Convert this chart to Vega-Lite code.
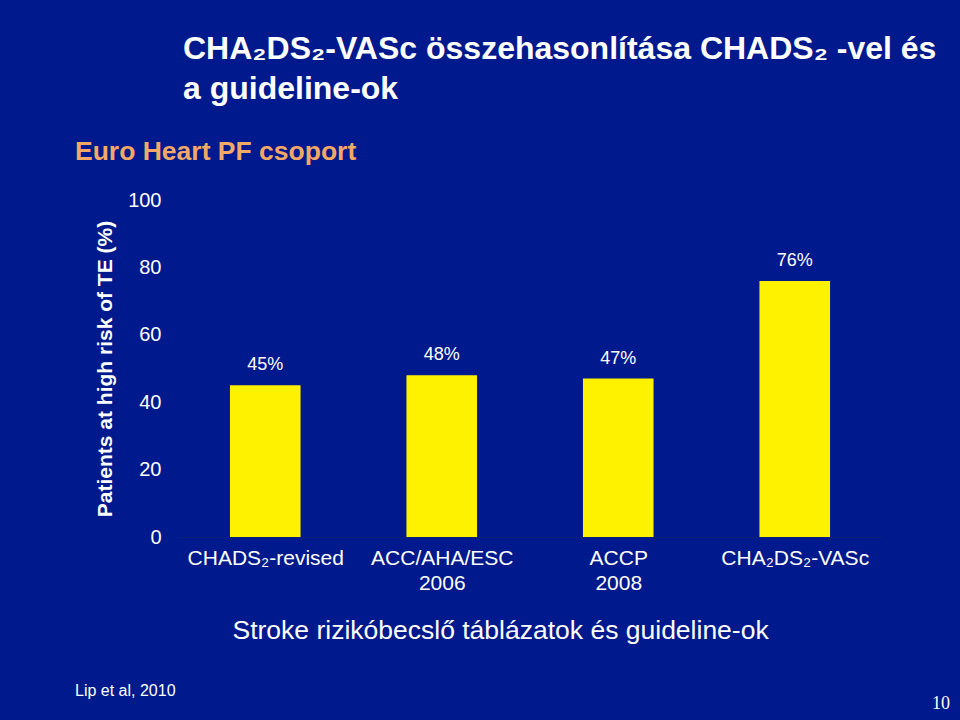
{
  "$schema": "https://vega.github.io/schema/vega-lite/v6.json",
  "background": "#00198c",
  "padding": {"left": 75, "top": 32, "right": 10, "bottom": 7},
  "config": {
    "view": {"stroke": null},
    "font": "Liberation Sans",
    "concat": {"spacing": 0}
  },
  "title": {
    "text": ["CHA₂DS₂-VASc összehasonlítása CHADS₂ -vel és", "a guideline-ok"],
    "anchor": "start",
    "frame": "group",
    "font": "Liberation Sans",
    "fontWeight": "bold",
    "fontSize": 32,
    "lineHeight": 40,
    "color": "#ffffff",
    "dx": 6,
    "offset": 33
  },
  "vconcat": [
    {
      "title": {
        "text": "10",
        "orient": "bottom",
        "anchor": "end",
        "frame": "group",
        "font": "Liberation Serif",
        "fontSize": 18,
        "fontWeight": "normal",
        "color": "#ffffff",
        "dx": 773,
        "offset": -4
      },
      "vconcat": [
        {
          "title": {
            "text": "Lip et al, 2010",
            "orient": "bottom",
            "anchor": "start",
            "frame": "group",
            "font": "Liberation Sans",
            "fontSize": 16,
            "fontWeight": "normal",
            "color": "#ffffff",
            "dx": -102,
            "offset": 39
          },
          "vconcat": [
            {
              "title": {
                "text": "Euro Heart PF csoport",
                "anchor": "start",
                "frame": "group",
                "font": "Liberation Sans",
                "fontSize": 26.5,
                "fontWeight": "bold",
                "color": "#f2a866",
                "dx": -102,
                "offset": 25
              },
              "width": 706,
              "height": 337,
              "data": {
                "values": [
                  {"category": "CHADS₂-revised", "value": 45, "label": "45%"},
                  {"category": "ACC/AHA/ESC|2006", "value": 48, "label": "48%"},
                  {"category": "ACCP|2008", "value": 47, "label": "47%"},
                  {"category": "CHA₂DS₂-VASc", "value": 76, "label": "76%"}
                ]
              },
              "encoding": {
                "x": {
                  "field": "category",
                  "type": "nominal",
                  "sort": null,
                  "scale": {"paddingInner": 0.6, "paddingOuter": 0.3},
                  "axis": {
                    "title": "Stroke rizikóbecslő táblázatok és guideline-ok",
                    "titleFont": "Liberation Sans",
                    "titleFontSize": 26.5,
                    "titleFontWeight": "normal",
                    "titleColor": "#ffffff",
                    "titleAnchor": "start",
                    "titleX": 55,
                    "titlePadding": 24,
                    "labelExpr": "split(datum.label, '|')",
                    "labelAngle": 0,
                    "labelFontSize": 21,
                    "labelColor": "#ffffff",
                    "labelPadding": 5,
                    "labelLineHeight": 25,
                    "labelBaseline": "top",
                    "domainColor": "#0d1f78",
                    "tickColor": "#0d1f78",
                    "ticks": true,
                    "tickBand": "extent",
                    "tickSize": 5,
                    "grid": false
                  }
                },
                "y": {
                  "field": "value",
                  "type": "quantitative",
                  "scale": {"domain": [0, 100]},
                  "axis": {
                    "title": "Patients at high risk of TE (%)",
                    "titleFont": "Liberation Sans",
                    "titleFontSize": 21,
                    "titleFontWeight": "bold",
                    "titleColor": "#ffffff",
                    "titlePadding": 12,
                    "values": [0, 20, 40, 60, 80, 100],
                    "labelFontSize": 20,
                    "labelColor": "#ffffff",
                    "labelPadding": 16,
                    "domain": false,
                    "ticks": false,
                    "grid": false
                  }
                }
              },
              "layer": [
                {"mark": {"type": "bar", "color": "#fff200"}},
                {
                  "mark": {"type": "text", "dy": -20, "fontSize": 18, "color": "#ffffff", "baseline": "middle"},
                  "encoding": {"text": {"field": "label"}}
                }
              ]
            }
          ]
        }
      ]
    }
  ]
}
